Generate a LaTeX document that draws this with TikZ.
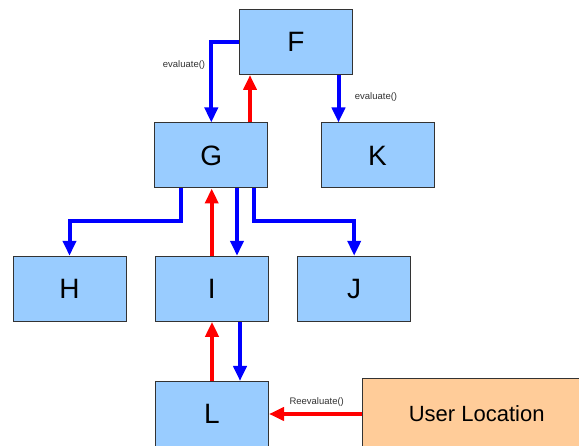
\documentclass[tikz,border=0pt]{standalone}
\usepackage{fontspec}
\setmainfont{Liberation Sans}
\usetikzlibrary{arrows.meta}
\definecolor{boxblue}{HTML}{99CCFF}
\definecolor{boxorange}{HTML}{FFCC99}
\definecolor{boxedge}{HTML}{333333}
\definecolor{arrblue}{HTML}{0000FF}
\definecolor{arrred}{HTML}{FF0000}
\tikzset{
  box/.style={draw=boxedge, line width=1pt, fill=boxblue, minimum width=113pt, minimum height=65pt, inner sep=0pt, font=\fontsize{28}{28}\selectfont},
  ubox/.style={box, fill=boxorange, minimum width=228pt, minimum height=71pt, font=\fontsize{22}{22}\selectfont},
  arr/.style={line width=4pt, -{Triangle[length=15pt,width=13pt]}},
  bluearr/.style={arr, draw=arrblue, color=arrblue},
  redarr/.style={arr, draw=arrred, color=arrred},
  lbl/.style={font=\fontsize{9.5}{9.5}\selectfont, text=boxedge, inner sep=0pt}
}
\begin{document}
\begin{tikzpicture}[x=1pt,y=-1pt]
\clip (0,0) rectangle (579,446);
\fill[white] (0,0) rectangle (579,446);
\node[box] (F) at (296,42) {F};
\node[box] (G) at (211.3,155.5) {G};
\node[box] (K) at (377.5,155.5) {K};
\node[box] (H) at (69.5,288.8) {H};
\node[box] (I) at (211.7,288.8) {I};
\node[box] (J) at (354.2,288.8) {J};
\node[box] (L) at (212,414) {L};
\node[ubox] (U) at (476.7,414) {User Location};
% F -> G, G -> F
\draw[bluearr] (F.west) -| (G.north);
\draw[redarr] ([xshift=38.7pt]G.north) -- ([xshift=38.7pt]G.north |- F.south);
% F -> K
\draw[bluearr] ([xshift=-39pt]K.north |- F.south) -- ([xshift=-39pt]K.north);
% G -> H, G -> J
\draw[bluearr] ([xshift=-30.3pt]G.south) -- ++(0,32.4) -| (H.north);
\draw[bluearr] ([xshift=43pt]G.south) -- ++(0,32.4) -| (J.north);
% I <-> G
\draw[redarr] (I.north) -- (I.north |- G.south);
\draw[bluearr] ([xshift=25.3pt]I.north |- G.south) -- ([xshift=25.3pt]I.north);
% L <-> I
\draw[redarr] (L.north) -- (L.north |- I.south);
\draw[bluearr] ([xshift=28pt]L.north |- I.south) -- ([xshift=28pt]L.north);
% User Location -> L
\draw[redarr] (U.west) -- (U.west -| L.east);
% labels
\node[lbl] (e1) at (184,65) {evaluate()};
\node[lbl] (e2) at (376,97) {evaluate()};
\node[lbl] (e3) at (316.7,401.7) {Reevaluate()};
\end{tikzpicture}
\end{document}
